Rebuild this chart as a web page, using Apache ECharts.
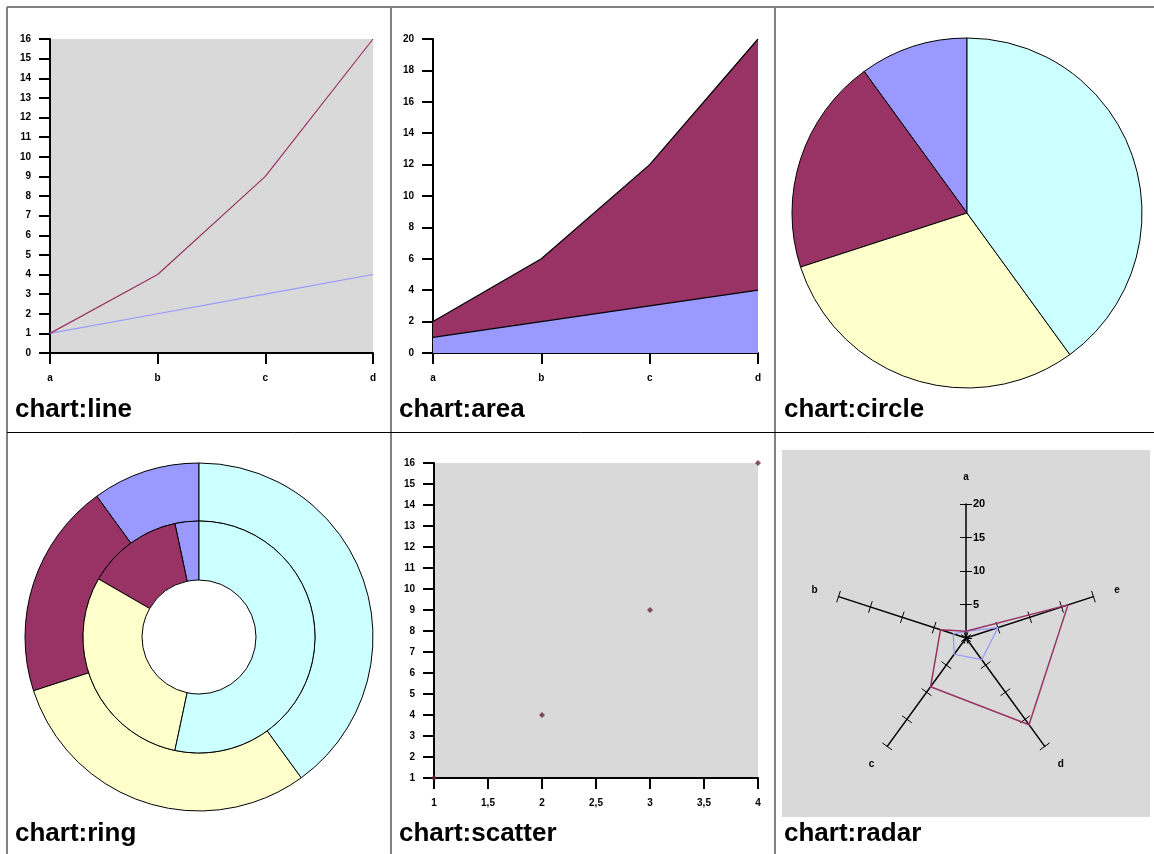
<!DOCTYPE html>
<html>
<head>
<meta charset="utf-8">
<script src="https://cdn.jsdelivr.net/npm/echarts@6/dist/echarts.min.js"></script>
<style>
html,body{margin:0;padding:0;background:#fff;}
#main{width:1154px;height:854px;}
</style>
</head>
<body>
<div id="main"></div>
<script>
// ---- data ----
const categories = ['a', 'b', 'c', 'd'];
const seriesLinear = [1, 2, 3, 4];
const seriesSquares = [1, 4, 9, 16];
const pieValues = [1, 2, 3, 4];
const ringOuterValues = [1, 2, 3, 4];
const ringInnerValues = [1, 4, 9, 16];
const scatterX = [1, 2, 3, 4];
const scatterY = [1, 4, 9, 16];
const radarIndicators = ['a', 'b', 'c', 'd', 'e'];
const radarMax = 20;
const radarBlue = [1, 2, 3, 4, 5];
const radarRed = [1, 4, 9, 16, 16];
const titles = ['chart:line', 'chart:area', 'chart:circle', 'chart:ring', 'chart:scatter', 'chart:radar'];
const palette = ['#9999ff', '#993366', '#ffffcc', '#ccffff'];

const FONT = 'Liberation Sans, Arial, sans-serif';
const axisLabelStyle = { color: '#000', fontSize: 10, fontWeight: 'bold', fontFamily: FONT };
const axisLine = { show: true, onZero: false, lineStyle: { color: '#000', width: 2 } };
const axisTick = { show: true, length: 11, lineStyle: { color: '#000', width: 2 } };

function valueAxis(gridIndex, min, max, interval, fmt) {
  return {
    type: 'value', gridIndex, min, max, interval,
    axisLine, axisTick: Object.assign({}, axisTick, { inside: false }),
    splitLine: { show: false },
    axisLabel: Object.assign({ margin: 19, formatter: fmt }, axisLabelStyle)
  };
}
function catAxis(gridIndex) {
  return {
    type: 'category', gridIndex, data: categories, boundaryGap: false,
    axisLine, axisTick: Object.assign({}, axisTick, { alignWithLabel: true, interval: 0 }),
    axisLabel: Object.assign({ margin: 20, interval: 0 }, axisLabelStyle),
    splitLine: { show: false }
  };
}
const commaFmt = v => String(v).replace('.', ',');

const chart = echarts.init(document.getElementById('main'), null, { renderer: 'canvas' });

const titlePos = [[15, 397], [399, 397], [784, 397], [15, 821], [399, 821], [784, 821]];

const option = {
  animation: false,
  backgroundColor: '#fff',
  title: titles.map((t, i) => ({
    text: t, left: titlePos[i][0], top: titlePos[i][1], padding: 0,
    textStyle: { fontFamily: FONT, fontWeight: 'bold', fontSize: 26, color: '#000' }
  })),
  graphic: [
    { type: 'rect', shape: { x: 782, y: 450, width: 368, height: 367 }, style: { fill: '#d9d9d9' }, z: -10 },
    { type: 'line', shape: { x1: 7, y1: 7, x2: 1154, y2: 7 }, style: { stroke: '#808080', lineWidth: 2 } },
    { type: 'line', shape: { x1: 7, y1: 7, x2: 7, y2: 854 }, style: { stroke: '#808080', lineWidth: 2 } },
    { type: 'line', shape: { x1: 391, y1: 7, x2: 391, y2: 854 }, style: { stroke: '#808080', lineWidth: 2 } },
    { type: 'line', shape: { x1: 775, y1: 7, x2: 775, y2: 854 }, style: { stroke: '#808080', lineWidth: 2 } },
    { type: 'line', shape: { x1: 7, y1: 432.5, x2: 1154, y2: 432.5 }, style: { stroke: '#000', lineWidth: 1 } }
  ],
  grid: [
    { left: 50, top: 39, width: 323, height: 314, show: true, backgroundColor: '#d9d9d9', borderWidth: 0 },
    { left: 433, top: 39, width: 325, height: 314, show: false },
    { left: 434, top: 463, width: 324, height: 315, show: true, backgroundColor: '#d9d9d9', borderWidth: 0 }
  ],
  xAxis: [
    catAxis(0),
    catAxis(1),
    Object.assign(valueAxis(2, 1, 4, 0.5, commaFmt), { axisLabel: Object.assign({ margin: 20, formatter: commaFmt }, axisLabelStyle) })
  ],
  yAxis: [
    valueAxis(0, 0, 16, 1),
    valueAxis(1, 0, 20, 2),
    valueAxis(2, 1, 16, 1)
  ],
  radar: [
    {
      center: [966, 638], radius: 134, startAngle: 90, shape: 'polygon',
      indicator: radarIndicators.map((n, i) => i === 0
        ? { name: n, max: radarMax, min: 0, axisLabel: { show: true } }
        : { name: n, max: radarMax, min: 0 }),
      splitNumber: 4, nameGap: 22,
      axisName: { color: '#000', fontSize: 10, fontWeight: 'bold', fontFamily: FONT },
      axisLine: { lineStyle: { color: '#000', width: 1.5 } },
      axisTick: { show: true, length: 6, lineStyle: { color: '#000', width: 1 } },
      axisLabel: Object.assign({ show: false, showMinLabel: false, margin: -7, align: 'left' }, axisLabelStyle, { fontSize: 11 }),
      splitLine: { show: false }, splitArea: { show: false }
    },
    {
      center: [966, 638], radius: 134, startAngle: 90, shape: 'polygon',
      indicator: radarIndicators.map(n => ({ name: '', max: radarMax, min: 0 })),
      splitNumber: 4,
      axisName: { show: false },
      axisLine: { show: false },
      axisTick: { show: true, length: -6, lineStyle: { color: '#000', width: 1 } },
      axisLabel: { show: false },
      splitLine: { show: false }, splitArea: { show: false }
    }
  ],
  series: [
    { type: 'line', xAxisIndex: 0, yAxisIndex: 0, data: seriesLinear, symbol: 'none', lineStyle: { color: palette[0], width: 1.2 } },
    { type: 'line', xAxisIndex: 0, yAxisIndex: 0, data: seriesSquares, symbol: 'none', lineStyle: { color: palette[1], width: 1.2 } },
    { type: 'line', xAxisIndex: 1, yAxisIndex: 1, data: seriesLinear, stack: 'area', symbol: 'none',
      lineStyle: { color: '#000', width: 1.2 }, areaStyle: { color: palette[0], opacity: 1 } },
    { type: 'line', xAxisIndex: 1, yAxisIndex: 1, data: seriesSquares, stack: 'area', symbol: 'none',
      lineStyle: { color: '#000', width: 1.2 }, areaStyle: { color: palette[1], opacity: 1 } },
    { type: 'pie', center: [967, 213], radius: [0, 175], startAngle: 90, clockwise: false,
      label: { show: false }, labelLine: { show: false }, emphasis: { disabled: true },
      itemStyle: { borderColor: '#000', borderWidth: 1 },
      data: pieValues.map((v, i) => ({ value: v, name: categories[i], itemStyle: { color: palette[i] } })) },
    { type: 'pie', center: [199, 637], radius: [116, 174], startAngle: 90, clockwise: false,
      label: { show: false }, labelLine: { show: false }, emphasis: { disabled: true },
      itemStyle: { borderColor: '#000', borderWidth: 1 },
      data: ringOuterValues.map((v, i) => ({ value: v, name: categories[i], itemStyle: { color: palette[i] } })) },
    { type: 'pie', center: [199, 637], radius: [57, 116], startAngle: 90, clockwise: false,
      label: { show: false }, labelLine: { show: false }, emphasis: { disabled: true },
      itemStyle: { borderColor: '#000', borderWidth: 1 },
      data: ringInnerValues.map((v, i) => ({ value: v, name: categories[i], itemStyle: { color: palette[i] } })) },
    { type: 'scatter', xAxisIndex: 2, yAxisIndex: 2, symbol: 'diamond', symbolSize: 6,
      itemStyle: { color: '#662244' },
      data: scatterX.map((x, i) => [x, scatterY[i]]) },
    { type: 'radar', radarIndex: 0, symbol: 'none',
      data: [
        { value: radarBlue, lineStyle: { color: palette[0], width: 1.2 } },
        { value: radarRed, lineStyle: { color: palette[1], width: 1.5 } }
      ] }
  ]
};
chart.setOption(option);
</script>
</body>
</html>
